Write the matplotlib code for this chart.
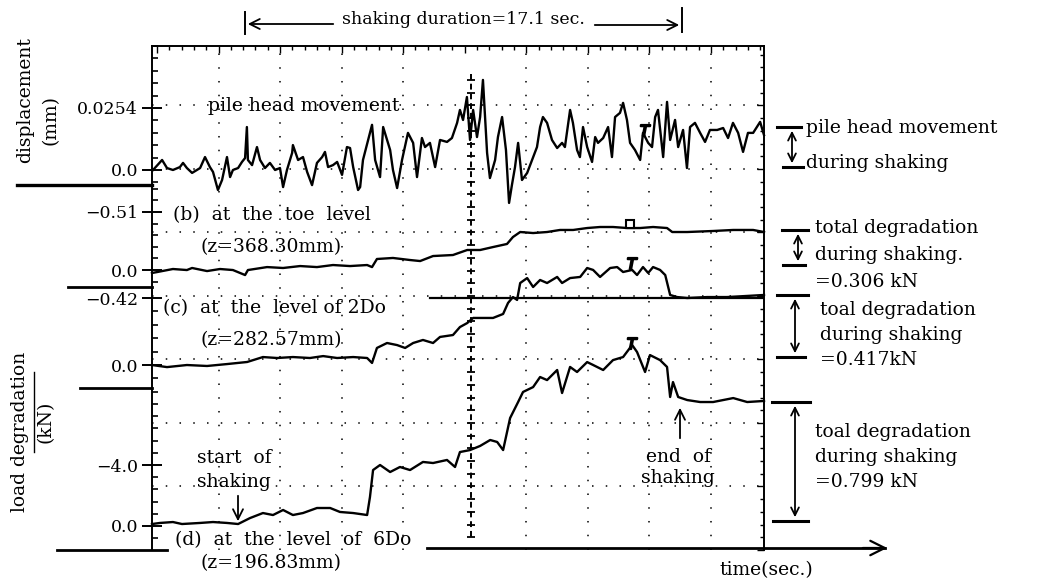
import matplotlib
matplotlib.use("Agg")
import matplotlib.pyplot as plt
from matplotlib.ticker import MultipleLocator
import numpy as np

plt.rcParams['font.family'] = 'DejaVu Serif'

# time axis (sec.), record length shown
T_END = 23.67

# (a) pile head displacement (mm)
a_t = [0.04, 0.39, 0.58, 0.81, 1.08, 1.20, 1.35, 1.55, 1.86, 2.05,
       2.24, 2.36, 2.55, 2.71, 2.90, 3.02, 3.13, 3.33, 3.48, 3.60,
       3.67, 3.71, 3.87, 4.06, 4.18, 4.37, 4.56, 4.76, 4.95, 5.07,
       5.22, 5.42, 5.45, 5.65, 5.84, 6.00, 6.19, 6.38, 6.58, 6.69,
       6.81, 7.00, 7.16, 7.35, 7.54, 7.66, 7.78, 7.97, 8.05, 8.16,
       8.36, 8.51, 8.63, 8.82, 8.94, 9.09, 9.21, 9.32, 9.48, 9.67,
       9.90, 10.10, 10.25, 10.44, 10.56, 10.75, 10.95, 11.14, 11.41, 11.60,
       11.80, 11.91, 12.03, 12.18, 12.30, 12.42, 12.57, 12.69, 12.80, 12.96,
       13.07, 13.27, 13.38, 13.54, 13.69, 13.81, 13.92, 14.04, 14.16, 14.31,
       14.51, 14.70, 14.89, 15.01, 15.12, 15.28, 15.47, 15.67, 15.86, 15.97,
       16.17, 16.28, 16.44, 16.55, 16.67, 16.83, 17.02, 17.14, 17.25, 17.45,
       17.64, 17.79, 17.91, 18.10, 18.22, 18.37, 18.49, 18.68, 18.88, 18.99,
       19.19, 19.34, 19.46, 19.57, 19.77, 19.92, 20.04, 20.23, 20.35, 20.54,
       20.69, 20.81, 21.00, 21.20, 21.39, 21.58, 21.86, 22.09, 22.28, 22.47,
       22.67, 22.86, 23.05, 23.25, 23.52, 23.67]
a_v = [0.0, 0.0041, 0.0008, 0.0, 0.0012, 0.0029, 0.0008, -0.0012, 0.0008, 0.0053,
       0.0012, -0.0008, -0.0082, -0.0041, 0.0053, -0.0029, 0.0, 0.0008, 0.0033, 0.0049,
       0.0176, 0.0041, 0.0020, 0.0094, 0.0041, 0.0008, 0.0029, 0.0, 0.0008, -0.0070,
       0.0, 0.0070, 0.0102, 0.0041, 0.0053, -0.0008, -0.0062, 0.0029, 0.0053, 0.0074,
       0.0012, 0.0020, 0.0033, -0.0020, 0.0094, 0.0090, 0.0012, -0.0082, -0.0070, 0.0041,
       0.0123, 0.0185, 0.0041, -0.0029, 0.0176, 0.0123, 0.0082, 0.0, -0.0074, 0.0041,
       0.0152, 0.0111, -0.0029, 0.0131, 0.0094, 0.0111, 0.0012, 0.0123, 0.0115, 0.0131,
       0.0193, 0.0246, 0.0205, 0.0299, 0.0123, 0.0246, 0.0135, 0.0217, 0.0369, 0.0070,
       -0.0033, 0.0041, 0.0135, 0.0217, 0.0082, -0.0135, -0.0062, 0.0012, 0.0111, -0.0041,
       -0.0012, 0.0041, 0.0094, 0.0176, 0.0217, 0.0193, 0.0123, 0.0090, 0.0111, 0.0094,
       0.0246, 0.0193, 0.0082, 0.0053, 0.0176, 0.0094, 0.0033, 0.0135, 0.0111, 0.0131,
       0.0176, 0.0053, 0.0217, 0.0234, 0.0275, 0.0205, 0.0111, 0.0082, 0.0041, 0.0152,
       0.0111, 0.0094, 0.0217, 0.0246, 0.0053, 0.0279, 0.0123, 0.0205, 0.0094, 0.0164,
       0.0008, 0.0176, 0.0193, 0.0152, 0.0115, 0.0164, 0.0164, 0.0172, 0.0131, 0.0193,
       0.0152, 0.0074, 0.0152, 0.0152, 0.0197, 0.0143]

# (b) load degradation at the toe level (kN)
b_t = [0.0, 0.19, 0.81, 1.35, 1.55, 2.13, 2.63, 3.13, 3.60, 3.71,
       4.45, 5.07, 5.73, 6.38, 7.00, 7.66, 8.32, 8.51, 8.70, 9.32,
       9.98, 10.37, 10.87, 11.64, 12.19, 12.69, 13.19, 13.73, 13.96, 14.24,
       14.74, 15.28, 15.78, 16.29, 16.83, 17.33, 17.83, 18.38, 18.88, 19.38,
       19.92, 20.12, 20.70, 21.70, 22.48, 23.25, 23.67]
b_v = [0.026, 0.018, -0.009, 0.0, -0.018, 0.009, -0.009, 0.0, 0.044, 0.0,
       -0.026, -0.018, -0.035, -0.026, -0.044, -0.035, -0.044, -0.026, -0.097, -0.106,
       -0.088, -0.079, -0.123, -0.132, -0.176, -0.176, -0.202, -0.229, -0.290, -0.334,
       -0.325, -0.334, -0.352, -0.352, -0.369, -0.378, -0.378, -0.369, -0.369, -0.378,
       -0.369, -0.334, -0.334, -0.343, -0.352, -0.352, -0.334]

# (c) load degradation at the level of 2Do (kN)
c_t = [0.0, 0.58, 1.35, 2.13, 2.90, 3.68, 4.29, 4.84, 5.45, 6.11,
       6.62, 7.16, 7.78, 8.32, 8.51, 8.70, 9.09, 9.48, 9.79, 10.10,
       10.48, 10.87, 11.14, 11.64, 11.91, 12.19, 12.42, 12.80, 13.19, 13.58,
       13.77, 13.96, 14.12, 14.24, 14.51, 14.74, 15.01, 15.28, 15.67, 15.86,
       16.17, 16.56, 16.83, 17.06, 17.33, 17.72, 17.99, 18.22, 18.57, 18.76,
       18.99, 19.19, 19.38, 19.65, 19.85, 20.04, 20.31, 20.70, 21.47, 22.24,
       23.02, 23.67]
c_v = [0.0, 0.013, 0.0, 0.006, -0.006, -0.019, -0.050, -0.044, -0.050, -0.044,
       -0.056, -0.044, -0.050, -0.044, -0.013, -0.107, -0.138, -0.125, -0.107, -0.138,
       -0.157, -0.138, -0.176, -0.188, -0.238, -0.263, -0.295, -0.295, -0.295, -0.320,
       -0.389, -0.426, -0.408, -0.514, -0.545, -0.489, -0.533, -0.514, -0.552, -0.514,
       -0.545, -0.552, -0.608, -0.596, -0.552, -0.608, -0.614, -0.583, -0.596, -0.564,
       -0.614, -0.577, -0.614, -0.596, -0.564, -0.439, -0.426, -0.420, -0.426, -0.426,
       -0.433, -0.439]
c_ref_from, c_ref_level = 10.75, -0.42

# (d) load degradation at the level of 6Do (kN, as labelled)
d_t = [0.0, 0.31, 0.81, 1.16, 1.86, 2.36, 2.90, 3.33, 3.79, 4.29,
       4.68, 5.07, 5.45, 5.84, 6.38, 6.89, 7.27, 7.78, 8.32, 8.43,
       8.55, 8.82, 9.21, 9.59, 9.98, 10.48, 10.87, 11.41, 11.72, 11.91,
       12.30, 12.69, 13.08, 13.35, 13.58, 13.85, 14.16, 14.35, 14.74, 15.01,
       15.28, 15.67, 15.86, 16.17, 16.44, 16.83, 17.06, 17.45, 17.83, 18.22,
       18.57, 18.76, 19.07, 19.26, 19.65, 19.92, 20.04, 20.15, 20.35, 20.70,
       21.20, 21.70, 22.48, 23.02, 23.67]
d_v = [-0.13, -0.20, -0.26, -0.13, -0.20, -0.26, -0.20, -0.13, -0.52, -0.85,
       -0.72, -1.05, -0.72, -0.85, -1.18, -1.18, -0.92, -0.85, -0.72, -1.90,
       -3.67, -4.00, -3.54, -3.87, -3.67, -4.20, -4.13, -4.33, -3.87, -4.85,
       -4.98, -5.25, -5.64, -5.51, -4.98, -7.08, -8.13, -8.79, -9.11, -9.77,
       -9.57, -10.23, -8.72, -10.43, -10.10, -10.75, -10.56, -10.23, -10.88, -11.08,
       -11.87, -11.41, -10.10, -11.21, -10.88, -10.43, -8.46, -9.44, -8.46, -8.26,
       -8.13, -8.13, -8.39, -8.13, -8.20]

# peak marks drawn on each record
peak_t = [19.07, 18.49, 18.57, 18.57]
peak_v = [0.0164, -0.404, -0.640, -12.0]

W, H = 1038, 578
fig = plt.figure(figsize=(W / 100, H / 100), dpi=100)


def rect(x0, y0, x1, y1):
    return [x0 / W, 1 - y1 / H, (x1 - x0) / W, (y1 - y0) / H]


# background oscilloscope grid
gax = fig.add_axes(rect(152, 46, 764, 550), zorder=0)
gax.set_xlim(-0.081, 9.862)
gax.set_ylim(4.0, -3.937)
for k in [1, 2, 3, 4, 6, 7, 8, 9]:
    gax.axvline(k, color='k', lw=1.1, ls=(0, (1, 8)))
for r in range(-3, 4):
    gax.axhline(r, color='k', lw=1.1, ls=(0, (1, 8)))
gax.plot([5.1, 5.1], [-3.5, 3.8], color='k', lw=1.4, ls=(0, (3, 2)))
gax.plot(np.full(37, 5.1), np.linspace(-3.4, 3.8, 37), ls='none', marker='_',
         ms=6, mew=1.3, color='k')
gax.spines['left'].set_visible(False)
gax.spines['bottom'].set_visible(False)
gax.spines['top'].set_linewidth(1.4)
gax.spines['right'].set_linewidth(1.4)
gax.xaxis.tick_top()
gax.yaxis.tick_right()
gax.xaxis.set_major_locator(MultipleLocator(1))
gax.xaxis.set_minor_locator(MultipleLocator(0.2))
gax.yaxis.set_major_locator(MultipleLocator(1))
gax.yaxis.set_minor_locator(MultipleLocator(0.2))
gax.tick_params(which='both', direction='in', labeltop=False, labelright=False,
                labelbottom=False, labelleft=False, width=1)
gax.tick_params(which='major', length=5)
gax.tick_params(which='minor', length=3)

panels = [
    (46, 185, (-0.00615, 0.0508), [0, 0.0254], ["0.0", "0.0254"], 0.00508, a_t, a_v),
    (185, 287, (0.149, -0.747), [0, -0.51], ["0.0", "\u22120.51"], 0.102, b_t, b_v),
    (287, 388, (0.144, -0.489), [0, -0.42], ["0.0", "\u22120.42"], 0.084, c_t, c_v),
    (388, 550, (1.574, -9.05), [0, -4.0], ["0.0", "\u22124.0"], 0.8, d_t, d_v),
]
axes = []
for i, (y0, y1, ylim, ticks, labels, minor, t, v) in enumerate(panels):
    ax = fig.add_axes(rect(152, y0, 764, y1), zorder=1)
    ax.patch.set_alpha(0)
    ax.set_xlim(0, T_END)
    ax.set_ylim(*ylim)
    for s in ['top', 'right', 'bottom']:
        ax.spines[s].set_visible(False)
    ax.spines['left'].set_linewidth(1.4)
    ax.set_xticks([])
    ax.set_yticks(ticks)
    ax.set_yticklabels(labels, fontsize=12.5)
    ax.yaxis.set_minor_locator(MultipleLocator(minor))
    ax.tick_params(which='major', direction='inout', length=14, width=1.4, pad=3)
    ax.tick_params(which='minor', direction='in', length=4, width=1.2)
    ax.plot(t, v, color='k', lw=1.7, clip_on=False)
    mk = 's' if i == 1 else '$T$'
    ax.plot(peak_t[i], peak_v[i], ls='none', marker=mk, ms=6 if i == 1 else 8,
            mfc='white' if i == 1 else 'k', mec='k', mew=1.5, clip_on=False)
    axes.append(ax)

axes[2].plot([c_ref_from, T_END], [c_ref_level, c_ref_level], color='k', lw=1.6)

# overlay for annotation text and drawing marks, in pixel units
ann = fig.add_axes([0, 0, 1, 1], zorder=5)
ann.set_xlim(0, W)
ann.set_ylim(H, 0)
ann.axis('off')
ann.patch.set_alpha(0)

fs = 13.5
blk = dict(color='k', lw=1.4)
arw = dict(arrowstyle='->', color='k', lw=1.3, mutation_scale=18)
arw2 = dict(arrowstyle='<->', color='k', lw=1.3, mutation_scale=14)

ann.text(463, 20, "shaking duration=17.1 sec.", ha='center', va='center', fontsize=fs - 1)
ann.annotate('', xy=(245, 24), xytext=(336, 24), arrowprops=arw)
ann.plot([245, 245], [12, 34], **blk)
ann.annotate('', xy=(682, 25), xytext=(592, 25), arrowprops=arw)
ann.plot([682, 682], [8, 32], **blk)

ann.text(208, 106, "pile head movement", ha='left', va='center', fontsize=fs)
ann.text(173, 215, "(b)  at  the  toe  level", ha='left', va='center', fontsize=fs)
ann.text(200, 247, "(z=368.30mm)", ha='left', va='center', fontsize=fs)
ann.text(163, 308, "(c)  at  the  level of 2Do", ha='left', va='center', fontsize=fs)
ann.text(200, 340, "(z=282.57mm)", ha='left', va='center', fontsize=fs)
ann.text(234, 458, "start  of", ha='center', va='center', fontsize=fs)
ann.text(234, 482, "shaking", ha='center', va='center', fontsize=fs)
ann.annotate('', xy=(238, 524), xytext=(238, 493), arrowprops=arw)
ann.text(175, 540, "(d)  at  the  level  of  6Do", ha='left', va='center', fontsize=fs)
ann.text(200, 563, "(z=196.83mm)", ha='left', va='center', fontsize=fs)
ann.text(678, 457, "end  of", ha='center', va='center', fontsize=fs)
ann.text(678, 478, "shaking", ha='center', va='center', fontsize=fs)
ann.annotate('', xy=(680, 405), xytext=(680, 441), arrowprops=arw)
ann.text(766, 570, "time(sec.)", ha='center', va='center', fontsize=fs)

ann.text(25, 100, "displacement", rotation=90, ha='center', va='center', fontsize=fs)
ann.text(51, 120, "(mm)", rotation=90, ha='center', va='center', fontsize=fs)
ann.text(20, 432, "load degradation", rotation=90, ha='center', va='center', fontsize=fs)
ann.plot([34, 34], [372, 452], color='k', lw=1.0)
ann.text(46, 422, "(kN)", rotation=90, ha='center', va='center', fontsize=fs)

# separators on the left and the time axis
ann.plot([17, 152], [185, 185], color='k', lw=2.4)
ann.plot([68, 152], [287, 287], color='k', lw=2.0)
ann.plot([80, 152], [388, 388], color='k', lw=2.0)
ann.plot([57, 167], [550, 550], color='k', lw=2.0)
ann.plot([427, 885], [548, 548], color='k', lw=2.0)
ann.annotate('', xy=(890, 548), xytext=(860, 548),
             arrowprops=dict(arrowstyle='->', color='k', lw=1.6, mutation_scale=26))

# brackets on the right
brackets = [
    (777, 801, 127, 783, 803, 167, 792, 806,
     ["pile head movement", "during shaking"], [128, 163]),
    (782, 808, 230, 783, 805, 265, 798, 815,
     ["total degradation", "during shaking.", "=0.306 kN"], [228, 255, 282]),
    (777, 808, 295, 777, 805, 357, 795, 820,
     ["toal degradation", "during shaking", "=0.417kN"], [310, 335, 360]),
    (772, 810, 402, 773, 808, 521, 795, 815,
     ["toal degradation", "during shaking", "=0.799 kN"], [432, 457, 482]),
]
for x0, x1, yt, x2, x3, yb, xa, xt, lines, ys in brackets:
    ann.plot([x0, x1], [yt, yt], color='k', lw=2.2)
    ann.plot([x2, x3], [yb, yb], color='k', lw=2.2)
    ann.annotate('', xy=(xa, yt + 1), xytext=(xa, yb - 1), arrowprops=arw2)
    for s, yy in zip(lines, ys):
        ann.text(xt, yy, s, ha='left', va='center', fontsize=fs)

fig.savefig("out.png", dpi=100)
